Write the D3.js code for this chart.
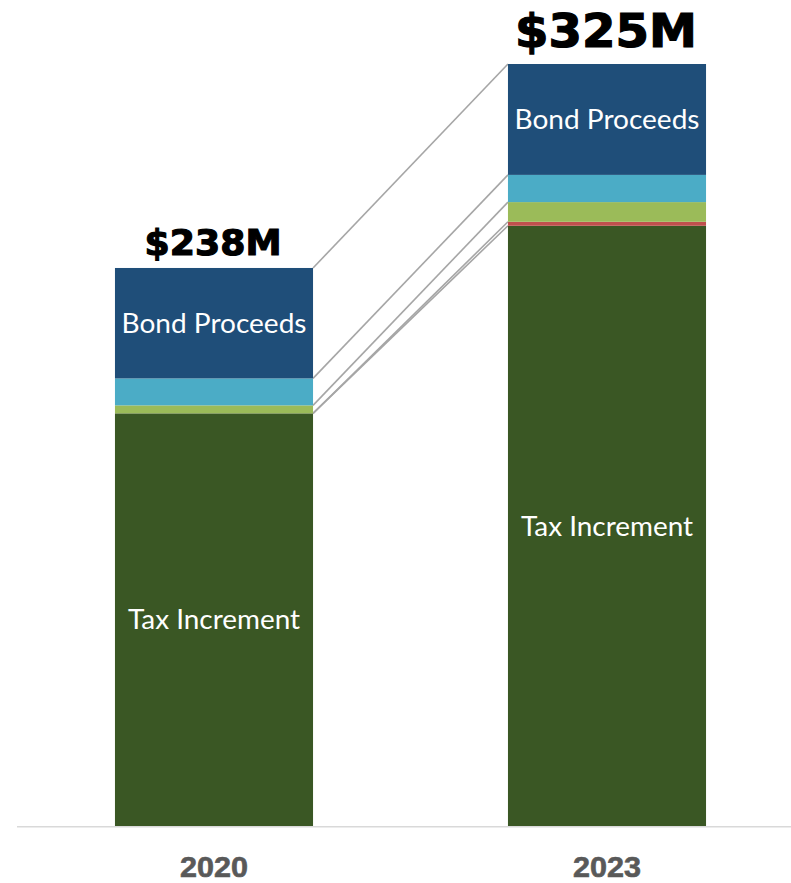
<!DOCTYPE html>
<html>
<head>
<meta charset="utf-8">
<script src="https://cdn.jsdelivr.net/npm/d3@7"></script>
<style>
  html, body { margin: 0; padding: 0; background: #ffffff; }
  svg { display: block; }
</style>
</head>
<body>
<svg id="chart" width="791" height="883"></svg>
<script>
// Funding sources by year, in $ millions (stacked bottom to top)
const years = ["2020", "2023"];
const seriesNames = ["Tax Increment", "Interest", "Other Revenue", "Fund Balance", "Bond Proceeds"];
const taxIncrement = [176.0, 256.0];
const interest = [0, 1.7];
const otherRevenue = [3.4, 8.4];
const fundBalance = [11.5, 11.6];
const bondProceeds = [47.1, 47.3];
const totalLabels = ["$238M", "$325M"];
const labeledSeries = ["Tax Increment", "Bond Proceeds"];

const colors = {
  "Tax Increment": "#3a5724",
  "Interest": "#c0504d",
  "Other Revenue": "#9bbb59",
  "Fund Balance": "#4bacc6",
  "Bond Proceeds": "#1f4e79"
};
const totalFontSize = [36, 46];
const totalTextLength = [137, 182];

const rows = years.map((y, i) => ({
  year: y,
  "Tax Increment": taxIncrement[i],
  "Interest": interest[i],
  "Other Revenue": otherRevenue[i],
  "Fund Balance": fundBalance[i],
  "Bond Proceeds": bondProceeds[i]
}));
const totals = rows.map(r => d3.sum(seriesNames, k => r[k]));

const svg = d3.select("#chart");
const baseY = 826;

const x = d3.scaleBand()
  .domain(years)
  .range([17.5, 803.5])
  .paddingInner(0.496)
  .paddingOuter(0.248);

const y = d3.scaleLinear()
  .domain([0, 325])
  .range([baseY, 64]);

const stacked = d3.stack().keys(seriesNames)(rows);

// Series lines joining the top of each segment across the two bars
const g = svg.append("g");
stacked.forEach(layer => {
  const a = layer[0], b = layer[1];
  g.append("line")
    .attr("x1", x(years[0]) + x.bandwidth())
    .attr("y1", y(a[1]))
    .attr("x2", x(years[1]))
    .attr("y2", y(b[1]))
    .attr("stroke", "#a6a6a6")
    .attr("stroke-width", 1.6);
});

// Stacked bars
stacked.forEach(layer => {
  g.selectAll(null)
    .data(layer)
    .join("rect")
    .attr("x", d => x(d.data.year))
    .attr("y", d => y(d[1]))
    .attr("width", x.bandwidth())
    .attr("height", d => y(d[0]) - y(d[1]))
    .attr("fill", colors[layer.key]);
});

// Segment labels
const segTextLen = { "Tax Increment": 172, "Bond Proceeds": 185 };
stacked.filter(l => labeledSeries.includes(l.key)).forEach(layer => {
  g.selectAll(null)
    .data(layer)
    .join("text")
    .attr("x", d => x(d.data.year) + x.bandwidth() / 2)
    .attr("y", d => (y(d[0]) + y(d[1])) / 2)
    .attr("dy", "0.36em")
    .attr("text-anchor", "middle")
    .attr("font-family", "Lato, 'Open Sans', sans-serif")
    .attr("font-size", 27)
    .attr("fill", "#ffffff")
    .attr("textLength", segTextLen[layer.key])
    .attr("lengthAdjust", "spacingAndGlyphs")
    .text(layer.key);
});

// Totals above bars
g.selectAll(null)
  .data(years)
  .join("text")
  .attr("x", d => x(d) + x.bandwidth() / 2 - 1)
  .attr("y", (d, i) => y(totals[i]) - totalFontSize[i] * 0.37)
  .attr("text-anchor", "middle")
  .attr("font-family", "'DejaVu Sans', sans-serif")
  .attr("font-weight", "bold")
  .attr("font-size", (d, i) => totalFontSize[i])
  .attr("fill", "#000000")
  .attr("stroke", "#000000")
  .attr("stroke-width", 1.2)
  .attr("textLength", (d, i) => totalTextLength[i])
  .attr("lengthAdjust", "spacingAndGlyphs")
  .text((d, i) => totalLabels[i]);

// Category axis
const axis = svg.append("g")
  .attr("transform", `translate(0,${baseY + 0.7})`)
  .call(d3.axisBottom(x).tickSize(0).tickPadding(0));
axis.select(".domain")
  .attr("d", `M17,0H791`)
  .attr("stroke", "#d9d9d9")
  .attr("stroke-width", 1.5);
axis.selectAll(".tick text")
  .attr("y", 50)
  .attr("dy", 0)
  .attr("font-family", "'Liberation Sans', Arial, sans-serif")
  .attr("font-weight", "bold")
  .attr("font-size", 29)
  .attr("fill", "#595959")
  .attr("stroke", "#595959")
  .attr("stroke-width", 0.6)
  .attr("textLength", 68)
  .attr("lengthAdjust", "spacingAndGlyphs");
</script>
</body>
</html>
